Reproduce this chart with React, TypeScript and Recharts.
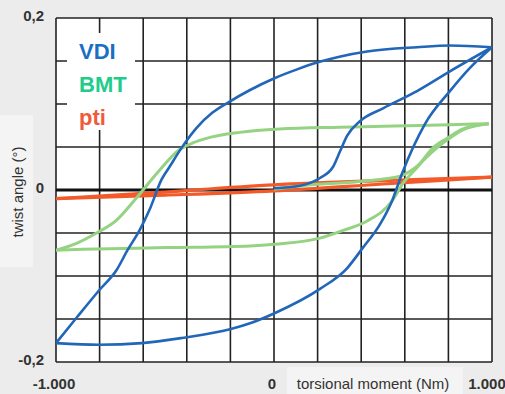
import React from 'react';
import { LineChart, Line, XAxis, YAxis, CartesianGrid, ReferenceLine, Legend } from 'recharts';

type Pt = { x: number; y: number };

// --- axis ticks ---
const xTicks = [-1000, -800, -600, -400, -200, 0, 200, 400, 600, 800, 1000];
const xTickLabels = ['-1.000', '', '', '', '', '0', '', '', '', '', '1.000'];
const yTicks = [-0.2, -0.15, -0.1, -0.05, 0, 0.05, 0.1, 0.15, 0.2];
const yTickLabels = ['-0,2', '', '', '', '0', '', '', '', '0,2'];

// --- VDI loop ---
const vdiUpper: Pt[] = [
  { x: -1000, y: -0.178 }, { x: -904, y: -0.148 }, { x: -800, y: -0.116 }, { x: -722, y: -0.093 },
  { x: -672, y: -0.07 }, { x: -617, y: -0.047 }, { x: -571, y: -0.023 }, { x: -516, y: 0.012 },
  { x: -479, y: 0.027 }, { x: -424, y: 0.049 }, { x: -356, y: 0.072 }, { x: -282, y: 0.09 },
  { x: -209, y: 0.102 }, { x: -112, y: 0.116 }, { x: 2, y: 0.13 }, { x: 103, y: 0.14 },
  { x: 209, y: 0.149 }, { x: 300, y: 0.155 }, { x: 427, y: 0.161 }, { x: 656, y: 0.166 },
  { x: 807, y: 0.168 }, { x: 1000, y: 0.166 },
];
const vdiLower: Pt[] = [
  { x: -1000, y: -0.178 }, { x: -803, y: -0.18 }, { x: -606, y: -0.178 }, { x: -422, y: -0.172 },
  { x: -202, y: -0.162 }, { x: -110, y: -0.155 }, { x: 5, y: -0.143 }, { x: 211, y: -0.115 },
  { x: 335, y: -0.091 }, { x: 408, y: -0.067 }, { x: 486, y: -0.04 }, { x: 541, y: -0.013 },
  { x: 587, y: 0.019 }, { x: 693, y: 0.077 }, { x: 807, y: 0.115 }, { x: 899, y: 0.142 },
  { x: 1000, y: 0.166 },
];
const vdiInitial: Pt[] = [
  { x: 0, y: 0.002 }, { x: 119, y: 0.005 }, { x: 211, y: 0.014 }, { x: 271, y: 0.027 },
  { x: 303, y: 0.045 }, { x: 335, y: 0.063 }, { x: 394, y: 0.08 }, { x: 500, y: 0.095 },
  { x: 656, y: 0.115 }, { x: 807, y: 0.138 }, { x: 1000, y: 0.166 },
];

// --- BMT loop ---
const bmtUpper: Pt[] = [
  { x: -1000, y: -0.07 }, { x: -906, y: -0.062 }, { x: -814, y: -0.05 }, { x: -722, y: -0.035 },
  { x: -640, y: -0.012 }, { x: -525, y: 0.023 }, { x: -433, y: 0.047 }, { x: -370, y: 0.055 },
  { x: -310, y: 0.06 }, { x: -158, y: 0.067 }, { x: 25, y: 0.071 }, { x: 300, y: 0.073 },
  { x: 500, y: 0.074 }, { x: 807, y: 0.076 }, { x: 985, y: 0.077 },
];
const bmtLower: Pt[] = [
  { x: -1000, y: -0.07 }, { x: -876, y: -0.069 }, { x: -491, y: -0.067 }, { x: -110, y: -0.065 },
  { x: 5, y: -0.063 }, { x: 211, y: -0.056 }, { x: 317, y: -0.047 }, { x: 427, y: -0.036 },
  { x: 541, y: -0.013 }, { x: 592, y: 0.008 }, { x: 656, y: 0.026 }, { x: 729, y: 0.049 },
  { x: 793, y: 0.06 }, { x: 867, y: 0.071 }, { x: 985, y: 0.077 },
];
const bmtInitial: Pt[] = [
  { x: 0, y: 0.001 }, { x: 133, y: 0.005 }, { x: 394, y: 0.01 }, { x: 578, y: 0.016 },
  { x: 638, y: 0.024 }, { x: 729, y: 0.045 }, { x: 793, y: 0.058 }, { x: 867, y: 0.07 },
  { x: 985, y: 0.077 },
];

// --- pti loop ---
const ptiUpper: Pt[] = [
  { x: -1000, y: -0.01 }, { x: -600, y: -0.004 }, { x: 0, y: 0.006 }, { x: 500, y: 0.011 }, { x: 1000, y: 0.015 },
];
const ptiLower: Pt[] = [
  { x: -1000, y: -0.01 }, { x: -500, y: -0.006 }, { x: 0, y: -0.001 }, { x: 500, y: 0.007 }, { x: 1000, y: 0.015 },
];

const legendItems = [
  { name: 'VDI', color: '#1b6fc3' },
  { name: 'BMT', color: '#20cc8a' },
  { name: 'pti', color: '#f05a3c' },
];

const BLUE = '#2166b8';
const GREEN = '#95d383';
const RED = '#f25a2a';

const XTick = (props: any) => {
  const label = xTickLabels[props.index];
  if (!label) return <g />;
  return (
    <text x={props.x - 2} y={props.y + 27} textAnchor="middle" fontSize={15} fontWeight="bold" fill="#333">
      {label}
    </text>
  );
};

const YTick = (props: any) => {
  const label = yTickLabels[props.index];
  if (!label) return <g />;
  return (
    <text x={props.x - 12} y={props.y + 3} textAnchor="end" fontSize={15} fontWeight="bold" fill="#333">
      {label}
    </text>
  );
};

const renderLegend = () => (
  <div style={{ paddingTop: 2, paddingLeft: 12 }}>
    {legendItems.map(item => (
      <div key={item.name} style={{ color: item.color, fontSize: 22, fontWeight: 'bold', lineHeight: '33px' }}>
        {item.name}
      </div>
    ))}
  </div>
);

const App: React.FC = () => {
  const line = (key: string, data: Pt[], color: string, width: number) => (
    <Line
      key={key}
      data={data}
      dataKey="y"
      type="monotone"
      stroke={color}
      strokeWidth={width}
      dot={false}
      activeDot={false}
      legendType="none"
      isAnimationActive={false}
    />
  );

  return (
    <div style={{ position: 'absolute', left: 0, top: 0, width: 505, height: 394, background: '#ececec', fontFamily: '"Liberation Sans", Arial, sans-serif', overflow: 'hidden' }}>
      {/* light boxes behind the axis titles */}
      <div style={{ position: 'absolute', left: 0, top: 115, width: 33, height: 152, background: '#f4f4f4' }} />
      <div style={{ position: 'absolute', left: 287, top: 367, width: 176, height: 27, background: '#f4f4f4' }} />
      <div style={{ position: 'absolute', left: 0, top: 0 }}>
        <LineChart width={505} height={394} margin={{ top: 18, right: 13, left: 0, bottom: 0 }}>
          <CartesianGrid stroke="#222" strokeWidth={1.6} fill="#fff" fillOpacity={1} />
          <XAxis
            type="number"
            dataKey="x"
            domain={[-1000, 1000]}
            ticks={xTicks}
            height={32}
            axisLine={false}
            tickLine={false}
            tickSize={0}
            tickMargin={0}
            tick={XTick}
            allowDataOverflow
            label={{ value: 'torsional moment (Nm)', position: 'center', dx: 99, dy: 6, fontSize: 15, fill: '#333' }}
          />
          <YAxis
            type="number"
            domain={[-0.2, 0.2]}
            ticks={yTicks}
            width={56}
            axisLine={false}
            tickLine={false}
            tickSize={0}
            tickMargin={0}
            tick={YTick}
            allowDataOverflow
            label={{ value: 'twist angle (°)', angle: -90, position: 'center', dx: -10, dy: 2, fontSize: 15, fill: '#333' }}
          />
          <ReferenceLine y={0} stroke="#111" strokeWidth={3} />
          <Legend
            layout="vertical"
            align="center"
            verticalAlign="middle"
            content={renderLegend}
            wrapperStyle={{ left: 67, top: 33, width: 68, height: 97, background: '#fff' }}
          />
          {line('ptiLower', ptiLower, RED, 3.2)}
          {line('ptiUpper', ptiUpper, RED, 3.2)}
          {line('bmtInitial', bmtInitial, GREEN, 3)}
          {line('bmtLower', bmtLower, GREEN, 3)}
          {line('bmtUpper', bmtUpper, GREEN, 3)}
          {line('vdiInitial', vdiInitial, BLUE, 2.6)}
          {line('vdiLower', vdiLower, BLUE, 2.6)}
          {line('vdiUpper', vdiUpper, BLUE, 2.6)}
        </LineChart>
      </div>
    </div>
  );
};

export default App;
